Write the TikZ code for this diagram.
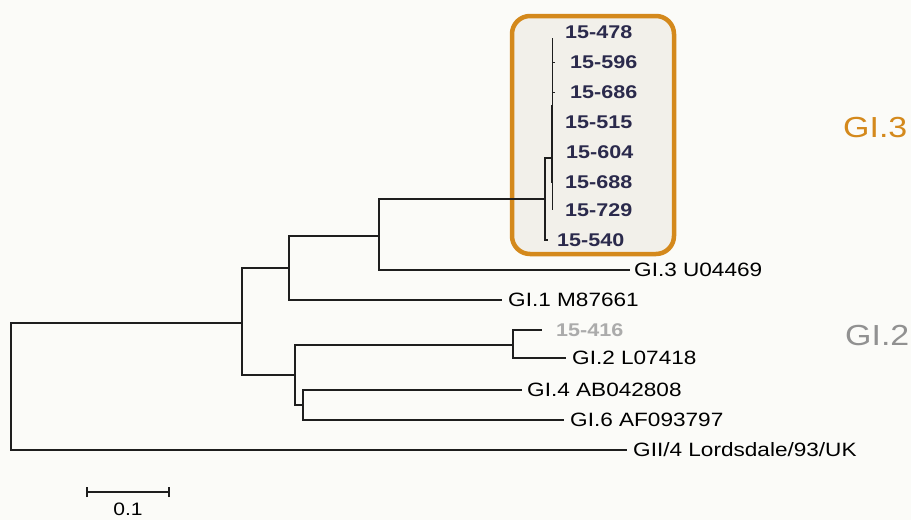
\documentclass[tikz,border=0pt]{standalone}
\usepackage{fontspec}
\setmainfont{Liberation Sans}[FakeStretch=1.17]
\usetikzlibrary{positioning}
\definecolor{paper}{HTML}{FBFBF8}
\definecolor{boxfill}{HTML}{F2F0EA}
\definecolor{clade}{HTML}{D4891C}
\definecolor{navy}{HTML}{2B2A4C}
\definecolor{branch}{HTML}{1E1E1E}
\definecolor{faded}{HTML}{ABABAB}
\tikzset{
  br/.style={draw=branch, line width=1.1pt},
  taxon/.style={inner sep=0pt, anchor=west, font=\fontsize{19.3}{22}\selectfont},
  isolate/.style={inner sep=0pt, anchor=west, text=navy, font=\fontsize{18.4}{21}\selectfont\bfseries},
  group/.style={inner sep=0pt, anchor=west, font=\fontsize{29}{32}\selectfont},
}
\begin{document}
\begin{tikzpicture}[x=1pt, y=-1pt]
  % page
  \fill[paper] (0,0) rectangle (911,520);
  \useasboundingbox (0,0) rectangle (911,520);

  % highlighted clade frame
  \draw[clade, line width=4.5pt, fill=boxfill, rounded corners=18pt] (512,16) rectangle (674,254);

  % internal nodes
  \coordinate (root) at (11,386);
  \coordinate (a)  at (242,323);
  \coordinate (b)  at (289,268);
  \coordinate (c)  at (379,236);
  \coordinate (d)  at (545,199);
  \coordinate (e)  at (552,158);
  \coordinate (m)  at (295,375);
  \coordinate (m2) at (513,345);
  \coordinate (m3) at (303,405);

  % leaf tips
  \coordinate (tGII) at (627,450);
  \coordinate (tGI1) at (502,300);
  \coordinate (tGI3) at (630,270);
  \coordinate (t416) at (542,330);
  \coordinate (tGI2) at (566,358);
  \coordinate (tGI4) at (522,390);
  \coordinate (tGI6) at (564,420);
  \coordinate (t540) at (548,240);
  \coordinate (eTop) at (552,38);
  \coordinate (eBot) at (552,210);

  % leaf labels
  \node[taxon, right=6pt of tGII] (GII) {GII/4 Lordsdale/93/UK};
  \node[taxon, right=6pt of tGI1] (GI1) {GI.1 M87661};
  \node[taxon, right=4pt of tGI3] (GI3) {GI.3 U04469};
  \node[isolate, text=faded, right=14pt of t416] (s416) {15-416};
  \node[taxon, right=6pt of tGI2] (GI2) {GI.2 L07418};
  \node[taxon, right=5pt of tGI4] (GI4) {GI.4 AB042808};
  \node[taxon, right=6pt of tGI6] (GI6) {GI.6 AF093797};

  \node[isolate] (s478) at (565,32)  {15-478};
  \node[isolate] (s596) at (570,62)  {15-596};
  \node[isolate] (s686) at (570,92)  {15-686};
  \node[isolate] (s515) at (565,122) {15-515};
  \node[isolate] (s604) at (566,152) {15-604};
  \node[isolate] (s688) at (565,182) {15-688};
  \node[isolate] (s729) at (565,210) {15-729};
  \node[isolate, right=9pt of t540] (s540) {15-540};

  % genogroup labels
  \node[group, text=clade] (gGI3) at (843,128) {GI.3};
  \node[group, text=faded!85!black] (gGI2) at (845,336) {GI.2};

  % branches
  \draw[br] (root) |- (a);
  \draw[br] (root) |- (tGII);
  \draw[br] (a) |- (b);
  \draw[br] (a) |- (m);
  \draw[br] (b) |- (c);
  \draw[br] (b) |- (tGI1);
  \draw[br] (c) |- (d);
  \draw[br] (c) |- (tGI3);
  \draw[br] (d) |- (e);
  \draw[br] (d) |- (t540);
  \draw[br] (m) |- (m2);
  \draw[br] (m) |- (m3);
  \draw[br] (m2) |- (t416);
  \draw[br] (m2) |- (tGI2);
  \draw[br] (m3) |- (tGI4);
  \draw[br] (m3) |- (tGI6);

  % near-identical isolates collapsed on one stem
  \draw[br, line width=0.9pt] (eTop) -- (eBot);
  \draw[br, line width=2pt] (552,105) -- (552,183);
  \draw[br, line width=0.9pt] (552,62) -- (555,62);
  \draw[br, line width=0.9pt] (552,92) -- (555,92);

  % scale bar
  \coordinate (sbL) at (87,492);
  \coordinate (sbR) at (169,492);
  \draw[br] (sbL) -- (sbR);
  \draw[br] ([yshift=-5pt]sbL) -- ([yshift=5pt]sbL);
  \draw[br] ([yshift=-5pt]sbR) -- ([yshift=5pt]sbR);
  \node[inner sep=0pt, font=\fontsize{18}{20}\selectfont] (sbLab) at (128,509.5) {0.1};
\end{tikzpicture}
\end{document}
